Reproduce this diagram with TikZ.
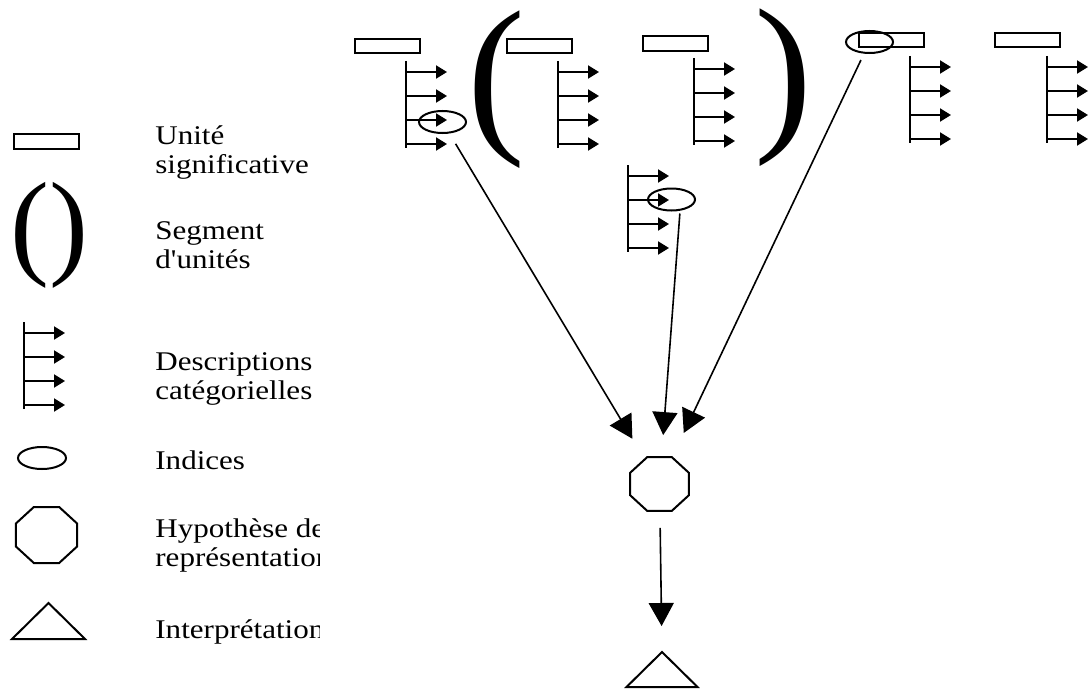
\documentclass[tikz,border=0pt]{standalone}
\usepackage{fontspec}
\setmainfont{Liberation Serif}[FakeStretch=1.15,Ligatures=TeXOff]
\newfontfamily\parenfont{Liberation Serif}
\usetikzlibrary{arrows.meta,shapes.geometric}

\begin{document}
\begin{tikzpicture}[x=0.5pt,y=-0.5pt]
\tikzstyle{every node}=[font=\fontsize{13.5}{14.5}\selectfont]
\tikzstyle{unit}=[draw,line width=1pt,rectangle,minimum width=32.5pt,minimum height=7.25pt,inner sep=0pt]
\tikzstyle{clue}=[draw,line width=1pt,ellipse,minimum width=23.5pt,minimum height=11pt,inner sep=0pt]
\tikzstyle{hypo}=[draw,line width=1pt,regular polygon,regular polygon sides=8,inner sep=0pt,xscale=1.09,transform shape]
\tikzstyle{interp}=[line width=1pt,line join=miter]
\tikzstyle{bar}=[line width=1pt]
\tikzstyle{cat}=[line width=1pt,-{Triangle[length=5.5pt,width=6.5pt]}]
\tikzstyle{link}=[line width=0.8pt,-{Triangle[length=11.5pt,width=12.5pt]}]
\tikzstyle{paren}=[inner sep=0pt,anchor=base west]
\tikzstyle{legend}=[inner sep=0pt,anchor=base west,align=left]
\useasboundingbox (0,0) rectangle (1090,690);

% legende
\node[unit] (lunit) at (46.5,141.5) {};
\node[paren,font=\parenfont\fontsize{58.5}{58.5}\selectfont] (lseg) at (10,263.5) {()};
\node[clue,minimum width=24pt] (lclue) at (42,458) {};
\node[hypo,minimum size=30.3pt] (lhyp) at (46.5,535) {};
\coordinate (linterp) at (48.5,603);
\draw[interp] (linterp) -- ++(36.5,36) -- ++(-73,0) -- cycle;

\begin{scope}
\clip (0,0) rectangle (319,690);
\node[legend] (tunit) at (155,173) {Unité\\significative};
\node[legend] (tseg) at (155,268) {Segment\\d'unités};
\node[legend] (tdesc) at (155,399) {Descriptions\\catégorielles};
\node[legend] (tclue) at (155,469) {Indices};
\node[legend] (thyp) at (155,566) {Hypothèse de\\représentation};
\node[legend] (tinterp) at (155,638) {Interprétation};
\end{scope}

% descriptions categorielles
\foreach \n/\x/\y in {desc1/406/61,desc2/558/61,desc3/694/58,desc4/910/56,desc5/1047/56,desc6/628/165,ldesc/24/322}{
  \coordinate (\n) at (\x,\y);
  \draw[bar] (\n) -- ++(0,87);
  \foreach \k in {0,...,3}
    \draw[cat] (\x,{\y+11+24*\k}) -- ++(41,0);
}

% unites et segment
\node[unit] (unit1) at (387.5,46) {};
\node[unit] (unit2) at (539.5,46) {};
\node[unit] (unit3) at (675.5,43.5) {};
\node[unit] (unit4) at (891.5,40) {};
\node[unit] (unit5) at (1027.5,40) {};
\node[paren,font=\parenfont\fontsize{87}{87}\selectfont] (open) at (467.5,131.6) {(};
\node[paren,font=\parenfont\fontsize{87}{87}\selectfont] (close) at (754,129) {)};

% indices
\node[clue] (clue1) at (442.5,122) {};
\node[clue] (clue4) at (869.5,42) {};
\node[clue] (clue6) at (671.5,199.5) {};

% hypothese et interpretation
\node[hypo,minimum size=29.2pt] (hyp) at (659.5,484) {};
\coordinate (interp) at (662,652);
\draw[interp] (interp) -- ++(35.5,35) -- ++(-71,0) -- cycle;

\draw[link,shorten <=6pt,shorten >=11.5pt] (clue1) -- (hyp);
\draw[link,shorten <=1pt,shorten >=10.5pt] ([xshift=4.25pt]clue6.south) -- (hyp);
\draw[link,shorten <=3.5pt,shorten >=13pt] (clue4) -- (hyp);
\draw[link,shorten <=8pt,shorten >=13pt] (hyp) -- (interp);
\end{tikzpicture}
\end{document}
